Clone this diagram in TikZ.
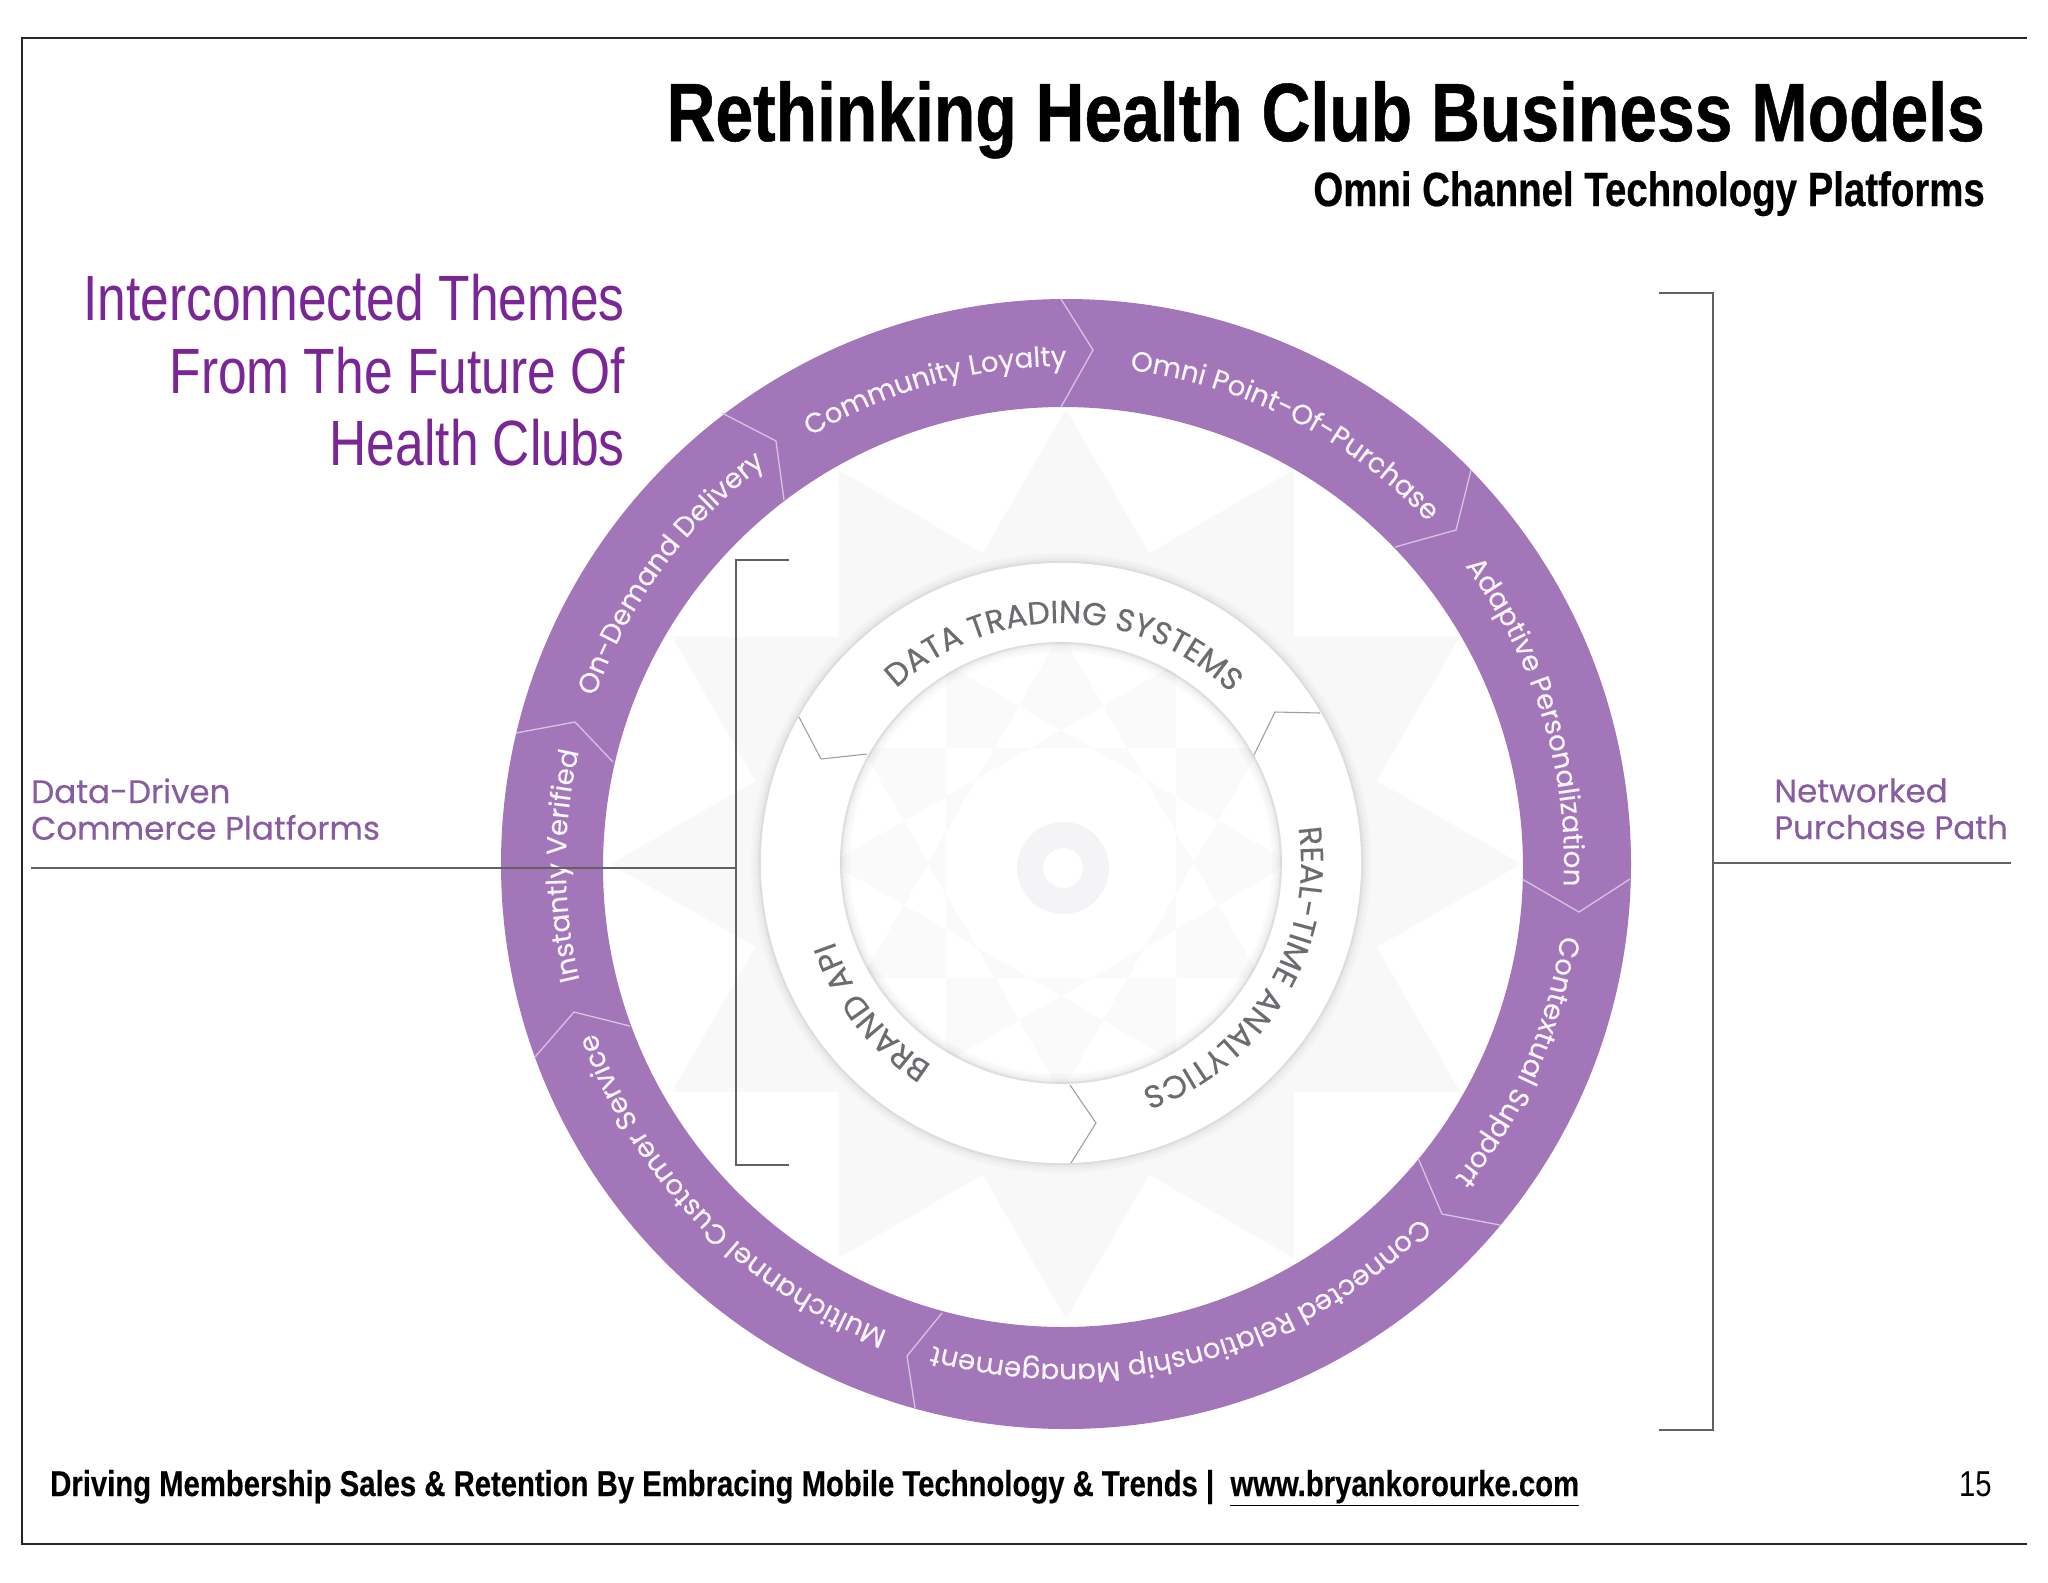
\documentclass[tikz,border=0pt]{standalone}
\usepackage{fontspec}
\usetikzlibrary{calc,decorations.text}
\newfontfamily\headfont[FakeStretch=0.82,BoldFeatures={FakeBold=0.6}]{Liberation Sans}
\newfontfamily\subfont[FakeStretch=0.80,BoldFeatures={FakeBold=0.5}]{Liberation Sans}
\newfontfamily\themefont[FakeStretch=0.805]{Liberation Sans}
\newfontfamily\footfont[FakeStretch=0.813,BoldFeatures={FakeBold=0.3}]{Liberation Sans}
\newfontfamily\ringfont[FakeBold=0.25]{Poppins}
\definecolor{ringpurple}{RGB}{162,118,184}
\definecolor{seppurple}{RGB}{216,194,228}
\definecolor{themepurple}{RGB}{122,38,150}
\definecolor{sidepurple}{RGB}{136,92,160}
\definecolor{hubgrey}{RGB}{108,108,112}
\definecolor{stargrey}{RGB}{248,248,249}
\definecolor{hubstar}{RGB}{250,250,251}
\definecolor{hubdot}{RGB}{244,244,246}
\tikzset{
  framerule/.style={draw=black!85,line width=1.5pt},
  bracketrule/.style={draw=black!62,line width=1.6pt},
  ringsep/.style={draw=seppurple,line width=1pt},
  hubsep/.style={draw=black!38,line width=0.8pt},
  starfill/.style={fill=stargrey},
}
\newcommand{\outerfmt}{\ringfont\fontsize{20.8}{20.8}\selectfont\color{white!92!ringpurple}}
\newcommand{\hubfmt}{\ringfont\fontsize{23.8}{23.8}\selectfont\color{hubgrey}}
% angle, radius, centre, format, text
\newcommand{\arclabel}[5]{\path[decorate,decoration={text along path,text align=center,text={|#4|#5}}] ($(#3)+(#1-75:#2)$) arc[start angle=#1-75,end angle=#1+75,radius=#2];}

\begin{document}
\begin{tikzpicture}[x=0.75pt,y=0.75pt,yscale=-1,xscale=1]
\useasboundingbox (0,0) rectangle (2048,1582);
\coordinate (ringC) at (1066,864);
\coordinate (holeC) at (1063,867);
\coordinate (hubC) at (1061,863);

%Shape: Frame
\draw[framerule] (2027,38) -- (22,38) -- (22,1544) -- (2027,1544);

%Shape: Star behind the rings
\fill[starfill] \foreach \a in {0,30,60,90} {($(ringC)+(\a:455)$) -- ($(ringC)+(\a+120:455)$) -- ($(ringC)+(\a+240:455)$) -- cycle};

%Shape: Outer ring
\fill[ringpurple,even odd rule] (ringC) circle (565) (holeC) circle (460);

%Shape: Hub halo and hub
\foreach \r/\o in {301/0.10,303/0.06,305/0.04,307/0.025,309/0.015} {\draw[black,opacity=\o,line width=1.6pt] (hubC) circle (\r);}
\fill[white] (hubC) circle (300);
\begin{scope}
\clip (hubC) circle (221);
\fill[hubstar,even odd rule] \foreach \a in {0,30,60,90} {($(hubC)+(\a:230)$) -- ($(hubC)+(\a+120:230)$) -- ($(hubC)+(\a+240:230)$) -- cycle};
\end{scope}
\foreach \r/\o in {220/0.12,218/0.06,216/0.04,214/0.025,212/0.015} {\draw[black,opacity=\o,line width=1.6pt] (hubC) circle (\r);}

%Shape: Centre ring
\fill[hubdot,even odd rule] (1063,868) circle (46) (1063,868) circle (20);

%Shape: Ring separators
\draw[ringsep] (1061,299) -- (1093,350) -- (1061,407);
\draw[ringsep] (722,413) -- (776,441) -- (784,500);
\draw[ringsep] (516,733) -- (575,722) -- (613,762);
\draw[ringsep] (1471,470) -- (1456,530) -- (1395,547);
\draw[ringsep] (1522,879) -- (1579,912) -- (1630,879);
\draw[ringsep] (1418,1158) -- (1442,1214) -- (1500,1225);
\draw[ringsep] (942,1313) -- (907,1356) -- (915,1408);
\draw[ringsep] (630,1026) -- (574,1012) -- (535,1057);

%Shape: Hub separators
\draw[hubsep] (799,717) -- (821,759) -- (867,754);
\draw[hubsep] (1320,713) -- (1275,712) -- (1254,755);
\draw[hubsep] (1070,1085) -- (1096,1123) -- (1071,1163);

% Ring labels
\arclabel{254.6}{498}{ringC}{\outerfmt}{Community Loyalty}
\arclabel{297}{498}{ringC}{\outerfmt}{Omni Point-Of-Purchase}
\arclabel{342.9}{498}{ringC}{\outerfmt}{Adaptive Personalization}
\arclabel{23.6}{500}{ringC}{\outerfmt}{Contextual Support}
\arclabel{75.2}{500}{ringC}{\outerfmt}{Connected Relationship Management}
\arclabel{135.6}{500}{ringC}{\outerfmt}{Multichannel Customer Service}
\arclabel{179.8}{500}{ringC}{\outerfmt}{Instantly Verified}
\arclabel{216.3}{500}{ringC}{\outerfmt}{On-Demand Delivery}

% Hub labels
\arclabel{270.8}{240}{hubC}{\hubfmt}{DATA TRADING SYSTEMS}
\arclabel{31}{240}{hubC}{\hubfmt}{REAL-TIME ANALYTICS}
\arclabel{141.8}{240}{hubC}{\hubfmt}{BRAND API}

%Shape: Left bracket
\coordinate (leftTop) at (789,560);
\coordinate (leftBot) at (789,1165);
\coordinate (leftMid) at (736,868);
\coordinate (leftEnd) at (31,868);
\draw[bracketrule] (leftTop) -- (leftTop -| leftMid) -- (leftBot -| leftMid) -- (leftBot);
\draw[bracketrule] (leftEnd) -- (leftMid);

%Shape: Right bracket
\coordinate (rightTop) at (1659,293);
\coordinate (rightBot) at (1659,1430);
\coordinate (rightMid) at (1713,863);
\coordinate (rightEnd) at (2011,863);
\draw[bracketrule] (rightTop) -- (rightTop -| rightMid) -- (rightBot -| rightMid) -- (rightBot);
\draw[bracketrule] (rightMid) -- (rightEnd);

% Text Node
\draw (1985,141) node (titleText) [anchor=base east][inner sep=0pt] {\headfont\bfseries\fontsize{62}{62}\selectfont Rethinking Health Club Business Models};
% Text Node
\draw (1985,206) node (subtitleText) [anchor=base east][inner sep=0pt] {\subfont\bfseries\fontsize{36}{36}\selectfont Omni Channel Technology Platforms};
% Text Node
\draw (625,274) node (themeText) [anchor=north east][inner sep=0pt][align=right,text=themepurple,font=\themefont\fontsize{48}{54.4}\selectfont] {Interconnected Themes\\From The Future Of\\Health Clubs};
% Text Node
\draw (31,778) node (leftText) [anchor=north west][inner sep=0pt][align=left,text=sidepurple,font=\ringfont\fontsize{24.4}{27.5}\selectfont] {Data-Driven\\Commerce Platforms};
% Text Node
\draw (1774,778) node (rightText) [anchor=north west][inner sep=0pt][align=left,text=sidepurple,font=\ringfont\fontsize{24.4}{27.5}\selectfont] {Networked\\Purchase Path};
% Text Node
\draw (50,1496) node (footerText) [anchor=base west][inner sep=0pt] {\footfont\bfseries\fontsize{27}{27}\selectfont Driving Membership Sales \& Retention By Embracing Mobile Technology \& Trends |\ \ \underline{www.bryankorourke.com}};
% Text Node
\draw (1992,1496) node (pageText) [anchor=base east][inner sep=0pt] {\footfont\fontsize{27}{27}\selectfont 15};
\end{tikzpicture}
\end{document}
